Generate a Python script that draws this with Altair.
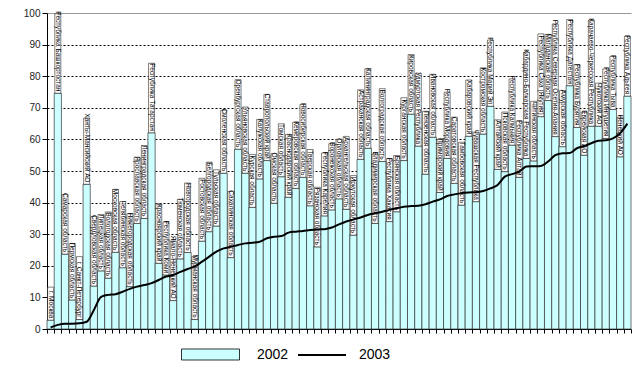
import altair as alt
import pandas as pd

regions = [
    "г. Москва", "Республика Башкортостан", "Самарская область", "Пермская область",
    "г. Санкт-Петербург", "Ханты-Мансийский АО", "Свердловская область", "Липецкая область",
    "Вологодская область", "Московская область", "Челябинская область", "Нижегородская область",
    "Ярославская область", "Ленинградская область", "Республика Татарстан", "Красноярский край",
    "Республика Коми", "Ямало-Ненецкий АО", "Тюменская область", "Новгородская область",
    "Мурманская область", "Ростовская область", "Белгородская область", "Тульская область",
    "Смоленская область", "Сахалинская область", "Оренбургская область", "Ульяновская область",
    "Курская область", "Калужская область", "Ставропольский край", "Омская область",
    "Томская область", "Краснодарский край", "Кемеровская область", "Новосибирская область",
    "Тверская область", "Рязанская область", "Республика Карелия", "Воронежская область",
    "Орловская область", "Архангельская область", "Иркутская область", "Астраханская область",
    "Калининградская область", "Владимирская область", "Волгоградская область", "Республика Хакасия",
    "Брянская область", "Курганская область", "Кировская область", "Удмуртская Республика",
    "Пензенская область", "Ивановская область", "Приморский край", "Республика Мордовия",
    "Саратовская область", "Тамбовская область", "Хабаровский край", "Чувашская Республика",
    "Костромская область", "Республика Марий Эл", "Алтайский край", "Псковская область",
    "Республика Калмыкия", "Республика Алтай", "Кабардино-Балкарская Республика", "Читинская область",
    "Республика Саха (Якутия)", "Магаданская область", "Республика Северная Осетия-Алания", "Амурская область",
    "Республика Дагестан", "Республика Бурятия", "Еврейская АО", "Карачаево-Черкесская Республика",
    "Чукотский АО", "Республика Ингушетия", "Республика Тыва", "Ненецкий АО",
    "Республика Адыгея",
]

share_2002 = [
    2.8, 74.6, 23.7, 9.2, 3.0, 45.8, 13.6, 18.4, 16.1, 24.3,
    19.4, 13.4, 33.4, 35.0, 62.1, 20.8, 17.1, 9.0, 22.2, 24.2,
    3.0, 27.8, 30.8, 32.6, 49.3, 22.6, 56.9, 49.3, 38.5, 47.5,
    53.3, 39.8, 48.2, 41.7, 44.5, 48.0, 39.0, 26.0, 35.8, 37.7,
    41.2, 37.9, 29.7, 53.7, 57.2, 33.4, 53.0, 34.0, 37.1, 53.3,
    68.0, 57.9, 49.0, 60.7, 43.2, 54.0, 46.1, 39.2, 61.0, 40.3,
    61.7, 70.5, 50.5, 49.8, 58.2, 48.0, 54.0, 53.2, 67.2, 72.3,
    60.9, 57.7, 77.0, 63.8, 55.0, 64.2, 64.2, 60.3, 69.5, 54.5,
    73.7,
]

share_2003 = [
    0.5, 1.3, 1.7, 1.7, 1.8, 2.3, 6.0, 10.2, 10.8, 11.0,
    11.8, 12.7, 13.4, 13.9, 14.5, 15.5, 16.6, 17.1, 18.1, 19.0,
    19.8, 21.3, 22.9, 24.5, 25.5, 26.0, 26.6, 27.1, 27.3, 27.6,
    28.7, 29.2, 29.4, 30.5, 30.8, 31.0, 31.3, 31.5, 31.6, 32.1,
    33.1, 34.0, 34.7, 35.3, 36.1, 36.6, 37.1, 37.7, 38.2, 38.7,
    38.9, 39.0, 39.5, 40.3, 41.0, 42.1, 42.6, 43.0, 43.2, 43.3,
    43.7, 44.5, 45.6, 48.2, 49.0, 49.8, 51.4, 51.5, 51.6, 53.0,
    55.0, 55.6, 55.7, 57.2, 57.9, 58.8, 59.6, 59.7, 60.3, 62.0,
    65.0,
]

df = pd.DataFrame({"region": regions, "v2002": share_2002, "v2003": share_2003})
df["nchar"] = df["region"].str.len()

YTITLE = "доля финансовой помощи, %"

xenc = alt.X(
    "region:N", sort=None, title=None,
    scale=alt.Scale(paddingInner=0, paddingOuter=0),
    axis=alt.Axis(labels=False, title=None, tickBand="extent", tickSize=4,
                  tickColor="black", domainColor="black", domainWidth=1, grid=False),
)
yscale = alt.Scale(domain=[0, 100], nice=False)
yaxis = alt.Axis(
    values=list(range(0, 101, 10)), title=None, labelOverlap=False,
    labelFont="Liberation Sans", labelFontSize=10, labelColor="#222222",
    labelPadding=2, tickSize=5, tickColor="black", domainColor="black",
    grid=True, gridWidth=1,
    gridColor={"condition": {"test": "datum.value === 100", "value": "#999999"}, "value": "black"},
    gridDash={"condition": {"test": "datum.value === 100", "value": []}, "value": [2, 2]},
)

def yenc(field):
    return alt.Y(field, scale=yscale, title=None, axis=yaxis)

base = alt.Chart(df)

bars = base.transform_calculate(s2002="'2002'").mark_bar(
    stroke="#333333", strokeWidth=0.7
).encode(
    x=xenc,
    y=yenc("v2002:Q"),
    fill=alt.Fill("s2002:N", scale=alt.Scale(domain=["2002"], range=["#CCFFFF"]),
                  legend=alt.Legend(orient="none", legendX=134, legendY=312, title=None,
                                    symbolType="M-1,-0.19H1V0.19H-1Z", symbolSize=3364,
                                    symbolStrokeColor="black", symbolStrokeWidth=0.8,
                                    labelFont="Liberation Sans", labelFontSize=14,
                                    labelColor="black", labelOffset=17, padding=0)),
)

boxes = base.transform_calculate(
    box_top="datum.v2002 + datum.nchar * 1.05 + 1.0"
).mark_bar(fill="white", stroke="black", strokeWidth=0.5, size=6).encode(
    x=xenc,
    y=yenc("v2002:Q"),
    y2="box_top:Q",
)

texts = base.transform_calculate(ty="datum.v2002 + 0.6").mark_text(
    angle=90, align="right", baseline="middle", fontSize=6.5,
    font="Liberation Sans", color="black"
).encode(
    x=xenc,
    y=yenc("ty:Q"),
    text="region:N",
)

line = base.transform_calculate(s2003="'2003'").mark_line(
    strokeWidth=2, interpolate="monotone"
).encode(
    x=xenc,
    y=yenc("v2003:Q"),
    stroke=alt.Stroke("s2003:N", scale=alt.Scale(domain=["2003"], range=["black"]),
                      legend=alt.Legend(orient="none", legendX=250, legendY=317, title=None,
                                        symbolType="stroke", symbolSize=2304,
                                        symbolStrokeWidth=2,
                                        labelFont="Liberation Sans", labelFontSize=14,
                                        labelColor="black", labelOffset=12, padding=0)),
)

chart = alt.layer(bars, boxes, texts, line).properties(
    width=584, height=316,
    title=alt.TitleParams(YTITLE, orient="left", angle=90, anchor="middle",
                          baseline="top",
                          font="Liberation Sans", fontSize=10, fontWeight="bold",
                          color="#111111", offset=6),
    autosize=alt.AutoSizeParams(type="none"),
    padding={"left": 39, "top": 5, "right": 4, "bottom": 34},
).configure_view(stroke=None)

chart.save("out.html", embed_options={"renderer": "svg", "actions": False})
